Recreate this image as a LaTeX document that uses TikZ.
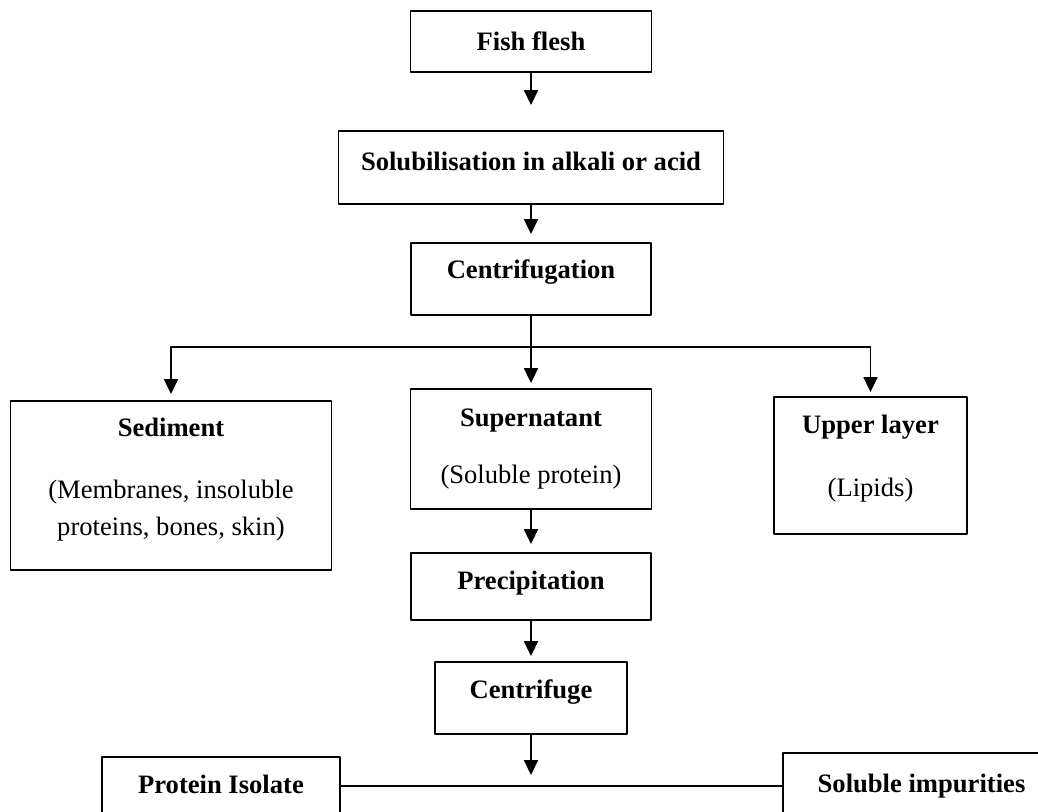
\documentclass[tikz,border=0pt]{standalone}
\usepackage{fontspec}
\setmainfont{Liberation Serif}
\usetikzlibrary{arrows.meta}
\begin{document}
\begin{tikzpicture}[x=0.5pt,y=-0.5pt,line cap=round,line join=round,font=\fontsize{13.3}{18.5}\selectfont,
  stepbox/.style={draw,line width=0.95pt,inner sep=0pt,align=center},
  onebox/.style={stepbox,text height=9.5pt,text depth=#1},
  flow/.style={-{Triangle[length=7.5pt,width=7pt]},line width=0.9pt},
  link/.style={line width=0.8pt}]
  \clip (0,0) rectangle (1038,811);
  % main column
  \node[stepbox,minimum width=120.5pt,minimum height=30.5pt] (fish) at (531,41.5) {\textbf{Fish flesh}};
  \node[onebox=6.2pt,minimum width=192.5pt,minimum height=36.5pt] (solub) at (531,167.5) {\textbf{Solubilisation in alkali or acid}};
  \node[onebox=9.7pt,minimum width=120pt,minimum height=36pt] (centrif) at (531,279) {\textbf{Centrifugation}};
  \node[stepbox,minimum width=120.5pt,minimum height=60pt] (super) at (531,449) {\textbf{Supernatant}\\[10pt] (Soluble protein)};
  \node[onebox=6.2pt,minimum width=120pt,minimum height=33.5pt] (precip) at (531,586.5) {\textbf{Precipitation}};
  \node[onebox=8.7pt,minimum width=96pt,minimum height=36pt] (centrifuge) at (531,698) {\textbf{Centrifuge}};
  % side fractions
  \node[stepbox,minimum width=160.5pt,minimum height=84.5pt] (sediment) at (171,485.5) {\textbf{Sediment}\\[12.5pt] (Membranes, insoluble\\ proteins, bones, skin)\\[-9.4pt]\mbox{}};
  \node[stepbox,minimum width=96.5pt,minimum height=68.5pt] (upper) at (870.5,465.5) {\textbf{Upper layer}\\[13pt] (Lipids)\\[-8.4pt]\mbox{}};
  % end products
  \node[onebox=5.7pt,minimum width=119pt,minimum height=33pt] (isolate) at (221,790) {\textbf{Protein Isolate}};
  \node[onebox=2.7pt,minimum width=138.5pt,minimum height=33pt] (impurities) at (921.5,786) {\textbf{Soluble impurities}};
  \coordinate (split) at (531,347);
  \coordinate (drop) at (531,775);
  \draw[flow,shorten >=12.5pt] (fish) -- (solub);
  \draw[flow,shorten >=4pt] (solub) -- (centrif);
  \draw[flow,shorten >=2.5pt] (centrif) -- (super);
  \draw[link] (sediment.north |- split) -- (upper.north |- split);
  \draw[flow,shorten >=3pt] (sediment.north |- split) -- (sediment);
  \draw[flow,shorten >=2pt] (upper.north |- split) -- (upper);
  \draw[flow,shorten >=4pt] (super) -- (precip);
  \draw[flow,shorten >=2.5pt] (precip) -- (centrifuge);
  \draw[flow] (centrifuge) -- (drop);
  \draw[link] (isolate.east |- impurities.west) -- (impurities.west);
\end{tikzpicture}
\end{document}
